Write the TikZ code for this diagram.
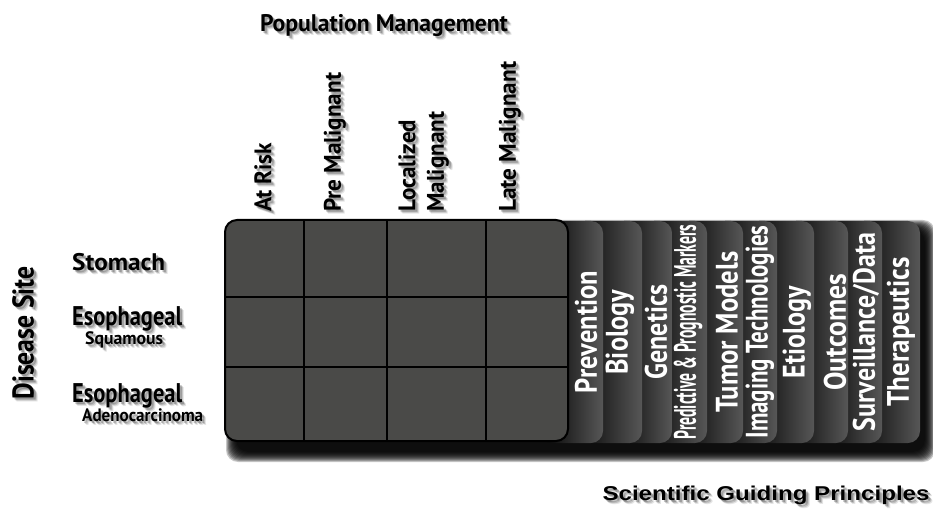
\documentclass[tikz,border=0pt]{standalone}
\usepackage{fontspec}
\setmainfont{PT Sans}
\newfontfamily\headfont{Liberation Sans}
\usetikzlibrary{calc}
\definecolor{cellfill}{HTML}{4A4A48}
\definecolor{cardlight}{HTML}{575757}
% set a text to a fixed length (in pt), keeping its height
\newcommand\fitw[2]{\resizebox{#1pt}{\height}{#2}}
% a label with a soft grey drop shadow: name, style, position, content
\newcommand\shadowlabel[4]{%
  \foreach \s/\o in {1/0.22,2/0.16,3/0.10}{%
    \node[#2, text=black, text opacity=\o, name=#1-shadow\s] at ($(#3)+(1+\s,1+\s)$) {#4};}%
  \node[#2] (#1) at (#3) {#4};}
\newcommand\fs[1]{\bfseries\fontsize{#1}{#1}\selectfont}
\begin{document}
\begin{tikzpicture}[x=1pt,y=-1pt,
  lbl/.style={inner sep=0pt, font=\fs{24}},
  sublbl/.style={inner sep=0pt, anchor=west, font=\fs{18}},
  rowlbl/.style={lbl, anchor=west, font=\fs{27}},
  vlbl/.style={lbl, rotate=90, anchor=west},
  cardlbl/.style={inner sep=0pt, rotate=90, text=white, font=\fs{31}},
  cardstyle/.style={left color=black, right color=cardlight, rounded corners=12pt},
  gridline/.style={line width=2pt, draw=black},
]
\useasboundingbox (0,0) rectangle (933,518);
\fill[white] (0,0) rectangle (933,518);

% soft shadow under the grid and the card stack
\foreach \k in {0,...,10}
  \fill[black, opacity=0.22, rounded corners=12pt] (236-\k,230-\k) rectangle (925+\k,452+\k);

% principle cards, from the back to the front
\foreach \l/\r/\tx/\len/\nm/\txt in {
  852/920/901/149/therapeutics/Therapeutics,
  818/882/866/198/surveillance/{Surveillance/Data},
  784/848/835/117/outcomes/Outcomes,
  747/814/797/92/etiology/Etiology,
  713/777/760/213/imaging/{Imaging Technologies},
  677/743/727/161/tumor/{Tumor Models},
  642/707/688/215/markers/{Predictive \& Prognostic Markers},
  612/672/656/95/genetics/Genetics,
  573/642/620/85/biology/Biology,
  540/603/586/122/prevention/Prevention}
{
  \shade[cardstyle] (\l,221) rectangle (\r,443);
  \node[cardlbl] (\nm) at (\tx,332) {\fitw{\len}{\txt}};
}

% population / disease-site grid
\draw[gridline, fill=cellfill, rounded corners=12pt] (225,220) rectangle (568,441);
\foreach \x in {304,387,486} \draw[gridline] (\x,220) -- (\x,441);
\foreach \y in {297,367} \draw[gridline] (225,\y) -- (568,\y);

% headings and labels
\shadowlabel{popmgmt}{lbl}{384,26}{\fitw{248}{Population Management}}
\shadowlabel{atrisk}{vlbl}{263,212}{\fitw{69}{At Risk}}
\shadowlabel{premalig}{vlbl}{335,212}{\fitw{139}{Pre Malignant}}
\shadowlabel{localized}{vlbl}{407,212}{\fitw{92}{Localized}}
\shadowlabel{localmalig}{vlbl}{438,212}{\fitw{100}{Malignant}}
\shadowlabel{latemalig}{vlbl}{510,212}{\fitw{150}{Late Malignant}}

\shadowlabel{diseasesite}{lbl, rotate=90, font=\fs{30}}{23,333}{\fitw{133}{Disease Site}}
\shadowlabel{stomach}{rowlbl, font=\fs{24}}{72,262}{\fitw{93}{Stomach}}
\shadowlabel{esoph1}{rowlbl}{72,319}{\fitw{110}{Esophageal}}
\shadowlabel{squamous}{sublbl}{85,340}{\fitw{78}{Squamous}}
\shadowlabel{esoph2}{rowlbl}{72,396}{\fitw{110}{Esophageal}}
\shadowlabel{adeno}{sublbl}{82,415}{\fitw{121}{Adenocarcinoma}}

\shadowlabel{sgp}{inner sep=0pt, font=\headfont\fs{20}}{766,495}{\fitw{327}{Scientific Guiding Principles}}
\end{tikzpicture}
\end{document}
